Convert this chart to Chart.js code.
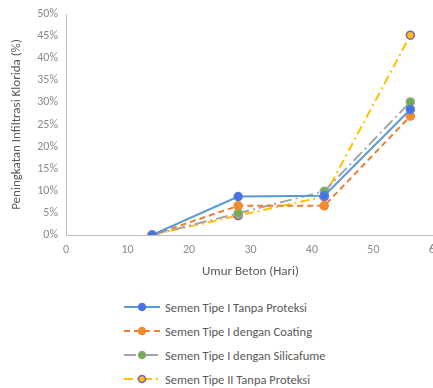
<!DOCTYPE html>
<html>
<head>
<meta charset="utf-8">
<script src="https://cdn.jsdelivr.net/npm/chart.js@4/dist/chart.umd.min.js"></script>
<style>
  html, body { margin: 0; padding: 0; background: #fff; overflow: hidden; width: 433px; height: 388px; }
  #wrap { position: absolute; left: 0; top: 0; width: 445px; height: 284px; }
  #legend { position: absolute; left: 124px; top: 295px; font-family: Calibri, Carlito, "Liberation Sans", sans-serif; font-size: 12.5px; color: #595959; }
  .item { height: 24px; display: flex; align-items: center; }
  .item svg { margin-right: 5px; }
</style>
</head>
<body>
<div id="wrap"><canvas id="chart"></canvas></div>
<div id="legend"></div>
<script>
// data (umur in hari, peningkatan as fraction)
const umur = [14, 28, 42, 56];
const tipe1Tanpa = [0, 0.087, 0.089, 0.284];
const tipe1Coating = [0, 0.066, 0.066, 0.269];
const tipe1Silica = [0, 0.049, 0.099, 0.301];
const tipe2Tanpa = [0, 0.044, 0.087, 0.452];
const seriesNames = [
    'Semen Tipe I Tanpa Proteksi',
    'Semen Tipe I dengan Coating',
    'Semen Tipe I dengan Silicafume',
    'Semen Tipe II Tanpa Proteksi'
];
const yTicks = [0, 0.05, 0.1, 0.15, 0.2, 0.25, 0.3, 0.35, 0.4, 0.45, 0.5];

const styles = [
    { line: '#5B9BD5', fill: '#4472E8', border: '#5B7BD5', dash: [] },
    { line: '#ED7D31', fill: '#F28A2E', border: '#F28A2E', dash: [6, 4] },
    { line: '#A5A5A5', fill: '#70AD47', border: '#8FA88A', dash: [12, 4, 2, 4] },
    { line: '#FFC000', fill: '#FFC000', border: '#7B5FC0', dash: [9, 4, 2, 4] }
];
const values = [tipe1Tanpa, tipe1Coating, tipe1Silica, tipe2Tanpa];

const datasets = values.map((vals, i) => ({
    label: seriesNames[i],
    data: vals.map((v, j) => ({ x: umur[j], y: v })),
    borderColor: styles[i].line,
    borderDash: styles[i].dash,
    borderWidth: 2,
    pointRadius: 4,
    pointBorderWidth: 1.5,
    pointBackgroundColor: styles[i].fill,
    pointBorderColor: styles[i].border,
    tension: 0
}));

const fam = 'Calibri, Carlito, "Liberation Sans", sans-serif';
const grey = '#8a8a8a';

new Chart(document.getElementById('chart'), {
    type: 'scatter',
    data: { datasets: datasets },
    options: {
        responsive: true,
        maintainAspectRatio: false,
        animation: false,
        showLine: true,
        layout: { padding: { top: 14, left: 9, right: 0, bottom: 0 } },
        plugins: { legend: { display: false }, tooltip: { enabled: false } },
        scales: {
            x: {
                type: 'linear', min: 0, max: 60,
                afterFit: s => { s.height = 49; },
                ticks: { stepSize: 10, color: grey, font: { family: fam, size: 12 }, padding: 4 },
                grid: { display: false, drawTicks: true, tickLength: 4, tickColor: '#bfbfbf' },
                border: { color: '#bfbfbf' },
                title: { display: true, text: 'Umur Beton (Hari)', color: '#595959', font: { family: fam, size: 13 }, padding: { top: 4 } }
            },
            y: {
                min: 0, max: 0.5,
                afterBuildTicks: s => { s.ticks = yTicks.map(v => ({ value: v })); },
                afterFit: s => { s.width = 57; },
                ticks: { color: grey, font: { family: fam, size: 12 }, padding: 4, callback: v => Math.round(v * 100) + '%' },
                grid: { display: false, tickLength: 4, tickColor: '#bfbfbf' },
                border: { color: '#bfbfbf' },
                title: { display: true, text: 'Peningkatan Infiltrasi Klorida (%)', color: '#595959', font: { family: fam, size: 13 }, padding: 0 }
            }
        }
    }
});

// legend drawn as html list under the chart
const legend = document.getElementById('legend');
seriesNames.forEach((name, i) => {
    const st = styles[i];
    const div = document.createElement('div');
    div.className = 'item';
    div.innerHTML = '<svg width="36" height="10">' +
        '<line x1="0" y1="5" x2="36" y2="5" stroke="' + st.line + '" stroke-width="2" stroke-dasharray="' +
        (st.dash.length ? st.dash.join(',') : 'none') + '"/>' +
        '<circle cx="18" cy="5" r="3.5" fill="' + st.fill + '" stroke="' + st.border + '" stroke-width="1.5"/></svg>' +
        '<span>' + name + '</span>';
    legend.appendChild(div);
});
</script>
</body>
</html>
